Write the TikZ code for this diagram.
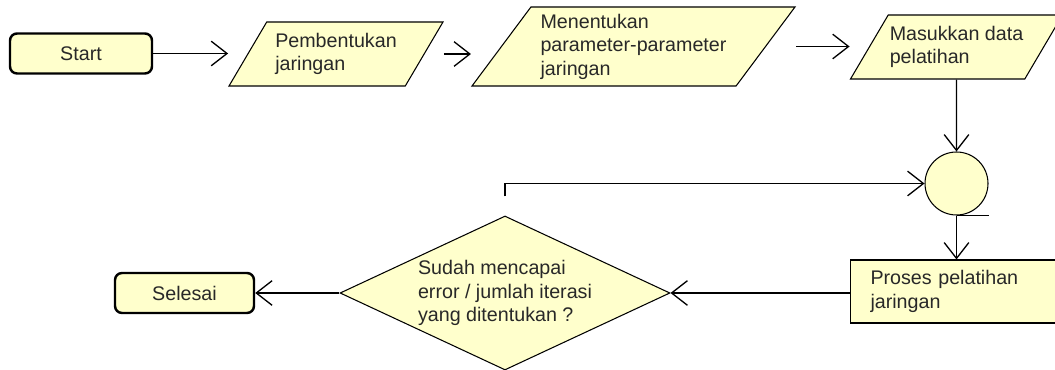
\documentclass[tikz,border=0pt]{standalone}
\usepackage{fontspec}
\setmainfont{Liberation Sans}
\usetikzlibrary{shapes,arrows.meta,positioning,calc}
\definecolor{flowfill}{RGB}{255,255,204}
\definecolor{flowtext}{RGB}{40,40,40}

\begin{document}
\begin{tikzpicture}[
    font=\fontsize{11.2}{13.4}\selectfont, text=flowtext,
    terminal/.style={rectangle, draw, line width=1.4pt, fill=flowfill, rounded corners=4pt, minimum height=0.8cm},
    io/.style={trapezium, trapezium left angle=48, trapezium right angle=132, trapezium stretches body, draw, line width=0.6pt, fill=flowfill, align=left, inner sep=0pt},
    process/.style={rectangle, draw, line width=0.6pt, fill=flowfill, text width=3.44cm, inner xsep=0.4cm, minimum height=1.26cm, align=left},
    decision/.style={diamond, draw, line width=0.6pt, fill=flowfill, aspect=2.14, minimum width=6.6cm, minimum height=3.08cm, inner sep=0pt, align=left},
    junction/.style={circle, draw, line width=0.6pt, fill=flowfill, minimum size=1.26cm, inner sep=0pt},
    arrow/.style={-{Straight Barb[length=9pt, width=14pt]}, line width=0.75pt}
]
    \useasboundingbox (0,0) rectangle (21.1,-7.4);

    \node[terminal, minimum width=2.84cm] (start) at (1.62,-1.07) {Start};
    \node[io, minimum width=4.28cm, minimum height=1.28cm] (form) at (6.72,-1.08) {Pembentukan\\jaringan};
    \node[io, minimum width=6.46cm, minimum height=1.58cm] (param) at (12.67,-0.93) {Menentukan\\parameter-parameter\\jaringan};
    \node[io, minimum width=4.24cm, minimum height=1.28cm] (input) at (19.13,-0.94) {Masukkan data\\pelatihan};
    \node[junction] (join) at (19.13,-3.67) {};
    \node[process] (train) at (19.13,-5.83) {Proses pelatihan\\jaringan};
    \node[decision] (check) at (10.10,-5.86) {Sudah mencapai\\error / jumlah iterasi\\yang ditentukan ?};
    \node[terminal, minimum width=2.78cm] (stop) at (3.69,-5.86) {Selesai};
    \coordinate (loop) at ([yshift=0.38cm]check.north);

    \draw[arrow] (start.east) -- (form.bottom left corner |- start.east);
    \draw[arrow] (form.top right corner |- form.center) -- (param.bottom left corner |- form.center);
    \draw[arrow] (param.top right corner |- param.center) -- (input.bottom left corner |- param.center);
    \draw[arrow] (input.south) -- (join.north);
    \draw[line width=0.75pt] (join.south) -- (join.south -| join.east);
    \draw[arrow] (join.south) -- (train.north);
    \draw[arrow] (train.west |- check.east) -- (check.east);
    \draw[arrow] (loop) |- (join.west);
    \draw[arrow] (check.west) -- (stop.east);
\end{tikzpicture}
\end{document}
